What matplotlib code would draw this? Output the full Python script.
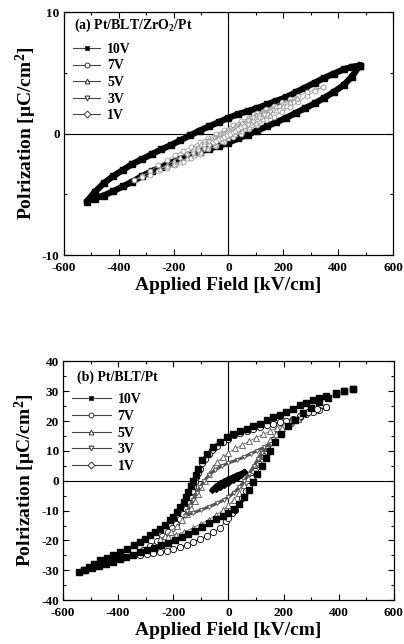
import matplotlib
matplotlib.use('Agg')
from matplotlib import pyplot as plt
from matplotlib.lines import Line2D
from matplotlib.ticker import MultipleLocator

plt.rcParams['font.family'] = 'Liberation Serif'
plt.rcParams['font.weight'] = 'bold'
plt.rcParams['mathtext.fontset'] = 'custom'
plt.rcParams['mathtext.rm'] = 'Liberation Serif:bold'
plt.rcParams['mathtext.it'] = 'Liberation Serif:bold'
plt.rcParams['mathtext.bf'] = 'Liberation Serif:bold'
plt.rcParams['axes.unicode_minus'] = False

# *Data (field in kV/cm, polarization in uC/cm2), each loop: upper branch then lower branch
voltages = ['10V', '7V', '5V', '3V', '1V']

# (a) Pt/BLT/ZrO2/Pt
a_E10 = [478, 450, 420, 385, 350, 315, 280, 245, 210, 175, 140, 105, 70, 35, 0, -35, -70, -105, -140, -175,
         -210, -245, -280, -315, -350, -385, -420, -455, -487, -517,
         -487, -455, -420, -385, -350, -315, -280, -245, -210, -175, -140, -105, -70, -35, 0, 35, 70, 105, 140,
         175, 210, 245, 280, 315, 350, 385, 420, 450, 478]
a_P10 = [5.6, 5.5, 5.3, 4.95, 4.6, 4.2, 3.8, 3.4, 3.0, 2.7, 2.4, 2.1, 1.85, 1.6, 1.3, 0.95, 0.6, 0.25, -0.15, -0.55,
         -0.95, -1.3, -1.7, -2.1, -2.5, -3.0, -3.5, -4.1, -4.8, -5.6,
         -5.35, -5.1, -4.75, -4.35, -3.95, -3.5, -3.1, -2.75, -2.4, -2.1, -1.8, -1.5, -1.25, -1.0, -0.75, -0.4, -0.1,
         0.25, 0.6, 0.95, 1.3, 1.7, 2.1, 2.5, 2.95, 3.45, 4.0, 4.7, 5.6]

a_E7 = [345, 315, 285, 255, 225, 195, 165, 135, 105, 75, 45, 15, -15, -45, -75, -105, -135, -165, -195, -225,
        -255, -285, -315, -345,
        -315, -285, -255, -225, -195, -165, -135, -105, -75, -45, -15, 15, 45, 75, 105, 135, 165, 195, 225,
        255, 285, 315, 345]
a_P7 = [3.85, 3.6, 3.4, 3.1, 2.85, 2.6, 2.3, 2.0, 1.7, 1.3, 1.0, 0.7, 0.3, 0.0, -0.35, -0.7, -1.1, -1.4, -1.8, -2.2,
        -2.6, -3.1, -3.5, -3.85,
        -3.6, -3.4, -3.1, -2.85, -2.6, -2.3, -2.0, -1.7, -1.3, -1.0, -0.7, -0.3, 0.0, 0.35, 0.7, 1.1, 1.4, 1.8, 2.2,
        2.6, 3.1, 3.5, 3.85]

a_E5 = [250, 225, 200, 175, 150, 125, 100, 75, 50, 25, 0, -25, -50, -75, -100, -125, -150, -175, -200, -225, -250,
        -225, -200, -175, -150, -125, -100, -75, -50, -25, 0, 25, 50, 75, 100, 125, 150, 175, 200, 225, 250]
a_P5 = [2.9, 2.7, 2.5, 2.3, 2.0, 1.8, 1.5, 1.2, 0.9, 0.6, 0.35, 0.05, -0.24, -0.55, -0.87, -1.21, -1.56, -1.91,
        -2.25, -2.58, -2.9,
        -2.7, -2.5, -2.3, -2.0, -1.8, -1.5, -1.2, -0.9, -0.6, -0.35, -0.05, 0.24, 0.55, 0.87, 1.21, 1.56, 1.91,
        2.25, 2.58, 2.9]

a_E3 = [150, 130, 110, 90, 70, 50, 30, 10, -10, -30, -50, -70, -90, -110, -130, -150,
        -130, -110, -90, -70, -50, -30, -10, 10, 30, 50, 70, 90, 110, 130, 150]
a_P3 = [1.8, 1.64, 1.45, 1.25, 1.03, 0.8, 0.56, 0.32, 0.08, -0.17, -0.43, -0.7, -0.98, -1.26, -1.53, -1.8,
        -1.64, -1.45, -1.25, -1.03, -0.8, -0.56, -0.32, -0.08, 0.17, 0.43, 0.7, 0.98, 1.26, 1.53, 1.8]

a_E1 = [55, 45, 35, 25, 15, 5, -5, -15, -25, -35, -45, -55,
        -45, -35, -25, -15, -5, 5, 15, 25, 35, 45, 55]
a_P1 = [0.65, 0.57, 0.46, 0.37, 0.26, 0.14, 0.02, -0.11, -0.24, -0.37, -0.52, -0.65,
        -0.57, -0.46, -0.37, -0.26, -0.14, -0.02, 0.11, 0.24, 0.37, 0.52, 0.65]

# (b) Pt/BLT/Pt
b_E10 = [451, 420, 390, 355, 330, 307, 283, 259, 235, 210, 186, 162, 138, 114, 90, 66, 42, 17, -6, -31,
         -55, -79, -97, -109, -118, -127, -136, -145, -154, -163, -175, -187, -200, -212, -230, -248, -266, -284,
         -302, -320, -344, -368, -392, -417, -441, -465, -486, -507, -525, -543,
         -520, -495, -470, -445, -420, -395, -370, -345, -320, -295, -270, -245, -220, -195, -170, -145, -120,
         -95, -70, -45, -20, 0, 20, 40, 58, 75, 90, 105, 120, 135, 150, 170, 190, 215, 240, 270, 300, 330, 360,
         390, 420, 451]
b_P10 = [30.8, 30.2, 29.3, 28.3, 27.6, 26.9, 26.1, 25.2, 24.1, 22.9, 22.1, 21.3, 20.2, 19.1, 18.2, 17.4, 16.6,
         15.7, 14.6, 12.9, 11.2, 9.0, 6.8, 4.0, 2.0, 0.0, -1.9, -3.8, -5.5, -7.2, -8.9, -10.5, -12.0, -13.3, -14.8,
         -16.0, -17.2, -18.3, -19.4, -20.5, -21.6, -22.7, -23.9, -25.0, -25.9, -26.7, -27.8, -28.9, -29.8, -30.6,
         -29.9, -29.2, -28.5, -27.8, -27.1, -26.3, -25.6, -24.8, -24.0, -23.2, -22.4, -21.6, -20.7, -19.8, -18.9,
         -17.9, -16.8, -15.6, -14.3, -12.9, -11.8, -10.8, -9.6, -7.8, -5.5, -3.0, -0.5, 2.2, 4.8, 7.5, 10.0, 13.0,
         15.6, 18.2, 20.4, 22.6, 24.5, 26.2, 27.7, 29.0, 30.0, 30.8]

b_E7 = [354, 330, 307, 282, 258, 234, 210, 186, 162, 138, 114, 90, 66, 42, 20, 0, -20, -43, -58, -72,
        -85, -95, -103, -110, -116, -122, -128, -134, -140, -147, -155, -165, -175, -190, -205, -220, -240, -260,
        -285, -310, -344,
        -320, -296, -272, -248, -224, -200, -176, -152, -127, -103, -79, -55, -31, -10, 0, 12, 25, 38, 50,
        62, 73, 85, 97, 110, 125, 140, 160, 180, 205, 230, 260, 290, 322, 354]
b_P7 = [24.6, 23.8, 23.0, 22.3, 21.5, 20.7, 20.1, 19.6, 19.1, 18.5, 18.0, 17.4, 16.8, 16.1, 15.2, 14.0, 12.9,
        11.8, 10.4, 8.9, 7.4, 5.8, 4.0, 2.5, 1.2, -0.3, -2.0, -3.6, -5.5, -7.5, -9.5, -11.3, -12.8, -14.4, -15.8,
        -17.0, -18.6, -20.3, -21.8, -23.2, -25.0,
        -24.8, -24.5, -24.2, -23.9, -23.4, -22.9, -22.2, -21.4, -20.5, -19.6, -18.4, -17.2, -15.8, -13.6, -12.4,
        -10.9, -9.8, -7.8, -5.8, -3.6, -1.6, 0.8, 3.2, 5.7, 8.4, 11.0, 13.8, 16.0, 18.2, 19.9, 21.6, 23.0, 23.9,
        24.6]

b_E5 = [252, 225, 200, 175, 150, 125, 100, 75, 50, 25, 0, -20, -40, -57, -72, -86, -98, -110, -122, -135, -150,
        -168, -188, -210, -230, -248,
        -220, -190, -160, -130, -100, -70, -45, -20, 0, 20, 40, 57, 72, 86, 100, 115, 132, 150, 172, 195, 222, 252]
b_P5 = [20.6, 19.6, 18.6, 17.6, 16.6, 15.5, 14.4, 13.2, 12.0, 10.8, 9.4, 8.0, 6.2, 4.2, 2.2, 0.0, -2.2, -4.5,
        -6.8, -9.0, -11.2, -13.3, -15.2, -17.0, -18.4, -19.5,
        -18.8, -18.0, -17.0, -15.8, -14.5, -13.0, -11.5, -9.8, -8.2, -6.3, -4.0, -1.5, 1.0, 3.6, 6.2, 8.8, 11.4,
        13.6, 15.8, 17.6, 19.2, 20.6]

b_E3 = [153, 130, 105, 80, 55, 30, 0, -25, -50, -70, -88, -102, -115, -128, -140, -150, -157,
        -130, -100, -70, -40, -15, 0, 20, 40, 58, 75, 92, 108, 122, 138, 153]
b_P3 = [12.2, 11.2, 10.1, 9.0, 7.9, 6.9, 6.0, 4.9, 3.5, 1.9, 0.0, -2.0, -4.0, -6.3, -8.5, -10.2, -11.7,
        -10.8, -9.8, -8.7, -7.5, -6.3, -5.5, -4.0, -2.2, 0.0, 2.4, 4.9, 7.2, 9.2, 10.9, 12.2]

b_E1 = [58, 45, 30, 15, 0, -15, -30, -45, -58,
        -45, -30, -15, 0, 15, 30, 45, 58]
b_P1 = [2.9, 2.4, 1.8, 1.2, 0.6, -0.1, -0.9, -1.9, -3.0,
        -2.6, -2.0, -1.3, -0.6, 0.2, 1.0, 1.9, 2.9]

markers = ['s', 'o', '^', 'v', 'D']

fig = plt.figure(figsize=(4.04, 6.44), dpi=100)
ax1 = fig.add_axes([0.158, 0.604, 0.815, 0.377])
ax2 = fig.add_axes([0.156, 0.068, 0.819, 0.371])

# *panel (a)
ax1.plot(a_E10, a_P10, color='k', lw=4.5, marker='s', ms=5, mfc='k', mec='k', solid_joinstyle='round')
grey = '#9a9a9a'
ax1.plot(a_E7, a_P7, color=grey, lw=0.6, marker='o', ms=3.5, mfc='white', mec=grey, mew=0.6)
ax1.plot(a_E5, a_P5, color=grey, lw=0.6, marker='^', ms=3.5, mfc='white', mec=grey, mew=0.6)
ax1.plot(a_E3, a_P3, color=grey, lw=0.6, marker='v', ms=3.5, mfc='white', mec=grey, mew=0.6)
ax1.plot(a_E1, a_P1, color=grey, lw=0.6, marker='D', ms=3, mfc='white', mec=grey, mew=0.6)

# *panel (b)
ax2.plot(b_E7, b_P7, color='k', lw=0.5, marker='o', ms=4.5, mfc='white', mec='k', mew=0.6)
ax2.plot(b_E5, b_P5, color='#555555', lw=0.5, marker='^', ms=4, mfc='white', mec='#555555', mew=0.6)
ax2.plot(b_E3, b_P3, color='#555555', lw=2.2, marker='v', ms=3, mfc='white', mec='#555555', mew=0.6)
ax2.plot(b_E10, b_P10, color='k', lw=0.6, linestyle='none', marker='s', ms=4, mfc='k', mec='k')
ax2.plot(b_E1, b_P1, color='k', lw=3.5, marker='D', ms=3, mfc='k', mec='k')

panels = [(ax1, -10, 10, 10, 5, '(a) Pt/BLT/ZrO$_2$/Pt', (0.03, 0.947), (0.027, 0.874), 2.0),
          (ax2, -40, 40, 10, 5, '(b) Pt/BLT/Pt', (0.041, 0.934), (0.026, 0.866), 2.8)]

for ax, ylo, yhi, ymaj, ymin, title, tpos, lpos, hl in panels:
    ax.axhline(0, color='k', lw=0.8, zorder=0)
    ax.axvline(0, color='k', lw=0.8, zorder=0)
    ax.set_xlim(-600, 600)
    ax.set_ylim(ylo, yhi)
    ax.xaxis.set_major_locator(MultipleLocator(200))
    ax.xaxis.set_minor_locator(MultipleLocator(100))
    ax.yaxis.set_major_locator(MultipleLocator(ymaj))
    ax.yaxis.set_minor_locator(MultipleLocator(ymin))
    ax.tick_params(which='both', direction='in', top=True, right=True, labelsize=9.5)
    ax.tick_params(axis='x', pad=5)
    ax.tick_params(axis='y', pad=3)
    ax.tick_params(which='major', length=4, width=0.8)
    ax.tick_params(which='minor', length=2, width=0.8)
    for lbl in ax.get_xticklabels() + ax.get_yticklabels():
        lbl.set_fontweight('bold')
    for s in ax.spines.values():
        s.set_linewidth(0.9)
    ax.set_xlabel('Applied Field [kV/cm]', fontsize=14, fontweight='bold', labelpad=2)
    ax.set_ylabel('Polrization [μC/cm$^2$]', fontsize=14, fontweight='bold', labelpad=2)
    ax.text(tpos[0], tpos[1], title, transform=ax.transAxes, fontsize=10, fontweight='bold', va='center')
    handles = []
    for i, m in enumerate(markers):
        handles.append(Line2D([0], [0], color='#444444', lw=0.8, marker=m, ms=3.5,
                              mfc='k' if i == 0 else 'white', mec='#333333', mew=0.7))
    ax.legend(handles, voltages, loc='upper left', bbox_to_anchor=lpos, frameon=False,
              handlelength=hl, handletextpad=0.5, labelspacing=0.26, borderaxespad=0, borderpad=0,
              prop={'weight': 'bold', 'size': 10})

fig.savefig('out.png', dpi=100)
